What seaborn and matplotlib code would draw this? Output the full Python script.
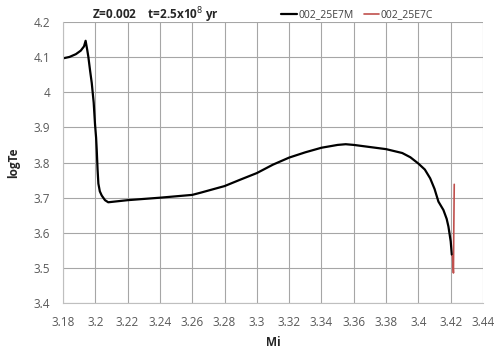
import numpy as np
import pandas as pd
import seaborn as sns
import matplotlib
matplotlib.use("Agg")
import matplotlib.pyplot as plt

# DATA
mi_m = [3.180, 3.184, 3.188, 3.191, 3.193, 3.194, 3.1950, 3.1957, 3.1968, 3.1978,
        3.1990, 3.1998, 3.2005, 3.2009, 3.2014, 3.2019, 3.2028, 3.2040, 3.2060, 3.2080,
        3.220, 3.240, 3.260, 3.265, 3.280, 3.2896, 3.300, 3.310, 3.320, 3.330,
        3.340, 3.350, 3.355, 3.360, 3.370, 3.380, 3.390, 3.395, 3.400, 3.4040,
        3.4073, 3.4100, 3.4124, 3.4155, 3.4175, 3.4186, 3.4200, 3.4207]
logte_m = [4.096, 4.100, 4.108, 4.118, 4.130, 4.146, 4.120, 4.100, 4.060, 4.026,
           3.970, 3.910, 3.870, 3.834, 3.780, 3.740, 3.718, 3.706, 3.693, 3.687,
           3.693, 3.700, 3.708, 3.714, 3.733, 3.751, 3.770, 3.794, 3.814, 3.829,
           3.842, 3.850, 3.852, 3.850, 3.844, 3.838, 3.827, 3.815, 3.797, 3.780,
           3.755, 3.725, 3.689, 3.665, 3.640, 3.618, 3.576, 3.538]
mi_c = [3.4211, 3.4214, 3.4217, 3.4219, 3.4222]
logte_c = [3.535, 3.510, 3.486, 3.600, 3.738]

x_ticks = [3.18, 3.2, 3.22, 3.24, 3.26, 3.28, 3.3, 3.32, 3.34, 3.36, 3.38, 3.4, 3.42, 3.44]
x_labels = ["3.18", "3.2", "3.22", "3.24", "3.26", "3.28", "3.3", "3.32", "3.34", "3.36",
            "3.38", "3.4", "3.42", "3.44"]
y_ticks = [3.4, 3.5, 3.6, 3.7, 3.8, 3.9, 4.0, 4.1, 4.2]
y_labels = ["3.4", "3.5", "3.6", "3.7", "3.8", "3.9", "4", "4.1", "4.2"]

df_m = pd.DataFrame({"Mi": mi_m, "logTe": logte_m})
df_c = pd.DataFrame({"Mi": mi_c, "logTe": logte_c})

sns.set_style("white")
plt.rcParams["font.family"] = ["Open Sans", "DejaVu Sans"]

fig = plt.figure(figsize=(5, 3.51), dpi=100)
ax = fig.add_axes([0.126, 0.136, 0.840, 0.802])

sns.lineplot(data=df_m, x="Mi", y="logTe", sort=False, color="black", linewidth=1.6,
             label="002_25E7M", ax=ax)
sns.lineplot(data=df_c, x="Mi", y="logTe", sort=False, color="#c0504d", linewidth=1.2,
             label="002_25E7C", ax=ax)

ax.set_xlim(3.18, 3.44)
ax.set_ylim(3.4, 4.2)
ax.set_xticks(x_ticks)
ax.set_xticklabels(x_labels)
ax.set_yticks(y_ticks)
ax.set_yticklabels(y_labels)
ax.grid(True, color="#a6a6a6", linewidth=0.8)
ax.set_axisbelow(True)
for s in ["top", "right"]:
    ax.spines[s].set_visible(False)
for s in ["left", "bottom"]:
    ax.spines[s].set_color("#bfbfbf")
ax.tick_params(axis="both", labelsize=8.5, colors="#595959", length=0, pad=9)
ax.tick_params(axis="y", length=3, color="#bfbfbf", pad=6)

ax.set_xlabel("Mi", fontsize=8.5, fontweight="bold", color="#262626", labelpad=5)
ax.set_ylabel("logTe", fontsize=8.5, fontweight="bold", color="#262626", labelpad=10)

fig.text(0.312, 0.985, "Z=0.002    t=2.5x10$^{8}$ yr", ha="center", va="top",
         fontsize=8.5, fontweight="bold", color="#262626")

leg = ax.legend(loc="lower left", bbox_to_anchor=(0.52, 1.005), ncol=2, frameon=False,
                fontsize=7.5, handlelength=1.5, handletextpad=0.1, columnspacing=1.0,
                borderaxespad=0, borderpad=0)
for t in leg.get_texts():
    t.set_color("#404040")

fig.savefig("out.png", dpi=100)
